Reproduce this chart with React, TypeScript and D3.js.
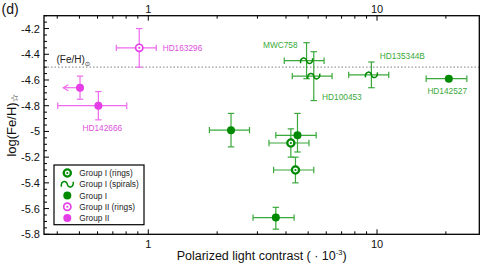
import React from "react";
import * as d3 from "d3";

// ---- data ----
const starNames = ["HD163296", "", "HD142666", "MWC758", "HD100453", "HD135344B", "HD142527", "", "", "", "", ""];
const kinds = ["ringII", "II", "II", "spiral", "spiral", "spiral", "I", "I", "I", "ringI", "ringI", "I"];
const contrast = [0.913, 0.503, 0.605, 4.92, 5.29, 9.45, 20.6, 2.30, 4.49, 4.20, 4.40, 3.61];
const contrastLo = [0.725, 0.425, 0.402, 3.93, 4.26, 7.52, 16.4, 1.85, 3.61, 3.37, 3.53, 2.87];
const contrastHi = [1.084, 0.503, 0.805, 5.87, 6.36, 11.25, 24.7, 2.77, 5.42, 5.04, 5.29, 4.34];
const upperLimit = [false, true, false, false, false, false, false, false, false, false, false, false];
const feh = [-4.35, -4.66, -4.80, -4.45, -4.57, -4.56, -4.59, -4.99, -5.03, -5.09, -5.30, -5.67];
const fehLo = [-4.50, -4.75, -4.91, -4.59, -4.76, -4.66, -4.59, -5.12, -5.16, -5.20, -5.40, -5.76];
const fehHi = [-4.20, -4.57, -4.69, -4.31, -4.38, -4.46, -4.59, -4.86, -4.86, -4.98, -5.20, -5.59];
const solarFeH = -4.5;
const xDomain = [0.35, 28];
const yDomain = [-5.8, -4.1];
const yTickLabels = ["-5.8", "-5.6", "-5.4", "-5.2", "-5", "-4.8", "-4.6", "-4.4", "-4.2"];
const legendKinds = ["ringI", "spiral", "I", "ringII", "II"];
const legendLabels = ["Group I (rings)", "Group I (spirals)", "Group I", "Group II (rings)", "Group II"];

const W = 491, H = 268;
const M = { left: 44, right: 479.3, top: 15.7, bottom: 234.3 };
const FONT = "'Liberation Sans', Arial, Helvetica, sans-serif";

const GREEN = "#008a00";
const GREEN_BAR = "#3aa83a";
const GREEN_TXT = "#3aaa3a";
const MAG = "#e63ee6";
const MAG_BAR = "#ee6aee";
const MAG_TXT = "#dd50dd";

// label offsets (pixels) relative to the point
const labelPlacement: Record<string, { dx: number; dy: number; anchor: string }> = {
  HD163296: { dx: 23.4, dy: 3, anchor: "start" },
  HD142666: { dx: 4, dy: 25, anchor: "middle" },
  MWC758: { dx: -9, dy: -12.7, anchor: "end" },
  HD135344B: { dx: 8.3, dy: -16.3, anchor: "start" },
  HD100453: { dx: 8.3, dy: 24, anchor: "start" },
  HD142527: { dx: -1.6, dy: 15, anchor: "middle" },
};

function isGreen(k: string) {
  return k === "ringI" || k === "spiral" || k === "I";
}

function Marker({ kind, x, y }: { kind: string; x: number; y: number }) {
  if (kind === "I" || kind === "II") {
    return <circle cx={x} cy={y} r={4} fill={kind === "I" ? GREEN : MAG} />;
  }
  if (kind === "ringI" || kind === "ringII") {
    const c = kind === "ringI" ? GREEN : MAG;
    const sw = kind === "ringI" ? 2.3 : 1.7;
    return (
      <g>
        <circle cx={x} cy={y} r={3.6} fill="white" stroke={c} strokeWidth={sw} />
        <circle cx={x} cy={y} r={1.1} fill={c} />
      </g>
    );
  }
  // spiral
  return (
    <path
      d={`M${x - 6},${y + 2.5} C${x - 6.5},${y - 4} ${x - 0.5},${y - 4} ${x},${y} C${x + 0.5},${y + 4} ${x + 6.5},${y + 4} ${x + 6},${y - 2.5}`}
      fill="none"
      stroke={GREEN}
      strokeWidth={1.5}
    />
  );
}

export default function App() {
  const x = d3.scaleLog().domain(xDomain).range([M.left, M.right]);
  const y = d3.scaleLinear().domain(yDomain).range([M.bottom, M.top]);

  const xTicks = x.ticks();
  const isMajorX = (t: number) => Math.abs(Math.log10(t) - Math.round(Math.log10(t))) < 1e-9;
  const yMinor = d3.range(Math.round(yDomain[0] / 0.05), Math.round(yDomain[1] / 0.05) + 1).map((i) => i * 0.05);
  const yMajor = yTickLabels.map((s) => +s);

  const cap = 3.2;

  return (
    <svg width={W} height={H} style={{ position: "absolute", left: 0, top: 0 }} fontFamily={FONT}>
      <rect width={W} height={H} fill="white" />
      {/* panel label */}
      <text x={1.5} y={14} fontSize={14} fill="#111">(d)</text>

      {/* solar line */}
      <line x1={M.left} x2={M.right} y1={y(solarFeH)} y2={y(solarFeH)} stroke="#999" strokeWidth={1.1} strokeDasharray="1.5 2" />
      <text x={56.5} y={63.3} fontSize={10} fill="#222">
        (Fe/H)<tspan fontSize={6.5} dy={2.5} fontFamily="'DejaVu Sans', sans-serif">⊙</tspan>
      </text>

      {/* error bars */}
      {contrast.map((cx, i) => {
        const col = isGreen(kinds[i]) ? GREEN_BAR : MAG_BAR;
        const px = x(cx), py = y(feh[i]);
        const x0 = x(contrastLo[i]), x1 = x(contrastHi[i]);
        const y0 = y(fehLo[i]), y1 = y(fehHi[i]);
        return (
          <g key={"e" + i} stroke={col} strokeWidth={1.2} fill="none">
            {upperLimit[i] ? (
              <g>
                <line x1={x0} x2={px} y1={py} y2={py} />
                <polyline points={`${x0 + 5},${py - 3} ${x0},${py} ${x0 + 5},${py + 3}`} />
              </g>
            ) : (
              <g>
                <line x1={x0} x2={x1} y1={py} y2={py} />
                <line x1={x0} x2={x0} y1={py - cap} y2={py + cap} />
                <line x1={x1} x2={x1} y1={py - cap} y2={py + cap} />
              </g>
            )}
            {y0 !== y1 && (
              <g>
                <line x1={px} x2={px} y1={y0} y2={y1} />
                <line x1={px - cap} x2={px + cap} y1={y0} y2={y0} />
                <line x1={px - cap} x2={px + cap} y1={y1} y2={y1} />
              </g>
            )}
          </g>
        );
      })}

      {/* markers */}
      {contrast.map((cx, i) => (
        <Marker key={"m" + i} kind={kinds[i]} x={x(cx)} y={y(feh[i])} />
      ))}

      {/* labels */}
      {starNames.map((n, i) => {
        if (!n) return null;
        const p = labelPlacement[n];
        return (
          <text
            key={"l" + i}
            x={x(contrast[i]) + p.dx}
            y={y(feh[i]) + p.dy}
            textAnchor={p.anchor}
            fontSize={8.3}
            fill={isGreen(kinds[i]) ? GREEN_TXT : MAG_TXT}
          >
            {n}
          </text>
        );
      })}

      {/* frame */}
      <rect x={M.left} y={M.top} width={M.right - M.left} height={M.bottom - M.top} fill="none" stroke="#000" strokeWidth={1.3} />

      {/* x ticks bottom & top */}
      {xTicks.map((t, i) => {
        const len = isMajorX(t) ? 5 : 3;
        const px = x(t);
        return (
          <g key={"xt" + i} stroke="#000" strokeWidth={1}>
            <line x1={px} x2={px} y1={M.bottom} y2={M.bottom - len} />
            <line x1={px} x2={px} y1={M.top} y2={M.top + len} />
          </g>
        );
      })}
      {xTicks.filter(isMajorX).map((t, i) => (
        <g key={"xl" + i} fontSize={11} fill="#111" textAnchor="middle">
          <text x={x(t)} y={248}>{d3.format("~g")(t)}</text>
          <text x={x(t)} y={13}>{d3.format("~g")(t)}</text>
        </g>
      ))}

      {/* y ticks */}
      {yMinor.map((t, i) => {
        const major = yMajor.some((m) => Math.abs(m - t) < 1e-6);
        return (
          <line key={"yt" + i} x1={M.left} x2={M.left + (major ? 5 : 3)} y1={y(t)} y2={y(t)} stroke="#000" strokeWidth={1} />
        );
      })}
      {yTickLabels.map((s, i) => (
        <text key={"yl" + i} x={40} y={y(+s) + 4} fontSize={11} textAnchor="end" fill="#111">
          {s}
        </text>
      ))}

      {/* axis titles */}
      <text x={(M.left + M.right) / 2} y={259.5} fontSize={12.5} textAnchor="middle" fill="#111">
        Polarized light contrast ( · 10<tspan fontSize={7.5} dy={-4.5}>-3</tspan><tspan dy={4.5}>)</tspan>
      </text>
      <text transform={`translate(16,${(M.top + M.bottom) / 2}) rotate(-90)`} fontSize={13} textAnchor="middle" fill="#111">
        log(Fe/H)<tspan fontSize={10} dy={1.5} fontFamily="'DejaVu Sans', sans-serif">☆</tspan>
      </text>

      {/* legend */}
      <rect x={54} y={165} width={90} height={59.7} fill="white" stroke="#000" strokeWidth={1.2} />
      {legendKinds.map((k, i) => {
        const ly = 173 + i * 11.25;
        return (
          <g key={"lg" + i}>
            <Marker kind={k} x={67.3} y={ly} />
            <text x={79.3} y={ly + 3} fontSize={8.3} fill="#222">{legendLabels[i]}</text>
          </g>
        );
      })}
    </svg>
  );
}
